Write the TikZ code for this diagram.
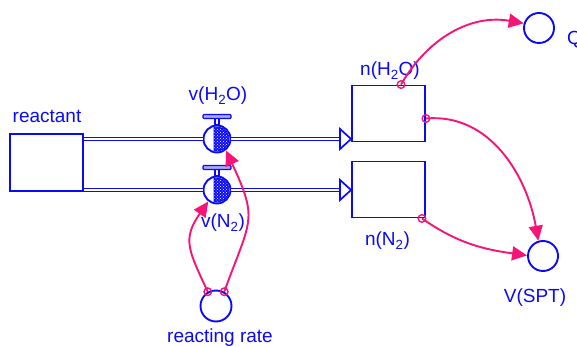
\documentclass[tikz,border=0pt]{standalone}
\usepackage{fontspec}
\setmainfont{Liberation Sans}
\usepackage{xcolor}
\usetikzlibrary{arrows.meta, positioning, calc, patterns}
\definecolor{sdblue}{RGB}{10, 10, 245}
\definecolor{linkpink}{RGB}{245, 20, 120}

\begin{document}
\begin{tikzpicture}[x=1pt, y=1pt, >={Triangle[length=15pt, width=14pt]},
    stock/.style={draw=sdblue, line width=1.9pt, minimum width=73pt, minimum height=56pt, inner sep=0pt},
    aux/.style={circle, draw=sdblue, line width=1.9pt, minimum size=30pt, inner sep=0pt},
    valvebody/.style={circle, draw=sdblue, fill=white, line width=1.9pt, minimum size=27pt, inner sep=0pt},
    pipe/.style={draw=sdblue, double=white, double distance=2pt, line width=1.4pt},
    lbl/.style={text=sdblue, font=\fontsize{19}{22}\selectfont, inner sep=0pt, anchor=base},
    link/.style={->, linkpink, line width=1.9pt},
    tail/.style={draw=linkpink, line width=1.4pt}]
    \useasboundingbox (0,0) rectangle (577,347);

    % stocks and converters
    \node[stock, minimum height=57pt] (reactant) at (46.5,184.5) {};
    \node[stock] (nH2O) at (388.5,233.5) {};
    \node[stock] (nN2) at (388.5,157.5) {};
    \node[aux] (Q) at (539,319) {};
    \node[aux] (VSPT) at (543,91) {};
    \node[aux, minimum size=31pt] (rr) at (216,41) {};
    \node[valvebody] (vH2O) at (217,208) {};
    \node[valvebody] (vN2) at (217,157) {};

    % flow pipes
    \foreach \v/\s in {vH2O/nH2O, vN2/nN2} {
        \draw[pipe] (reactant.east |- \v.west) -- (\v.west);
        \draw[pipe] (\v.east) -- ($(\s.west |- \v)+(-11,0)$);
        \draw[sdblue, line width=1.7pt, fill=white] (\s.west |- \v) -- ++(-11,10) -- ++(0,-20) -- cycle;
        \draw[sdblue, line width=1.3pt, fill=white] ([xshift=-2pt]\v.north) rectangle ([xshift=2pt, yshift=6pt]\v.north);
        \draw[sdblue, line width=1.3pt, fill=sdblue!35, rounded corners=1pt] ([xshift=-14pt, yshift=6pt]\v.north) rectangle ([xshift=14pt, yshift=10pt]\v.north);
        \draw[sdblue, line width=0.8pt, preaction={fill=sdblue}, pattern=crosshatch dots, pattern color=white]
            ([shift={(-3,11.6)}]\v.center) arc[start angle=104.5, end angle=-104.5, radius=12] -- cycle;
    }

    % labels
    \node[lbl] (lblreactant) at (47,224) {reactant};
    \node[lbl] (lblvH2O) at (218,246) {v(H\textsubscript{2}O)};
    \node[lbl] (lblvN2) at (223,119) {v(N\textsubscript{2})};
    \node[lbl] (lblnH2O) at (390,271) {n(H\textsubscript{2}O)};
    \node[lbl] (lblnN2) at (387.5,101) {n(N\textsubscript{2})};
    \node[lbl] (lblVSPT) at (535,44) {V(SPT)};
    \node[lbl] (lblrr) at (220,4) {reacting rate};
    \node[lbl, anchor=base west] (lblQ) at (567,302) {Q};

    % information links
    \coordinate (o1) at ([xshift=12.5pt]nH2O.north);
    \coordinate (o2) at ([yshift=-5pt]nH2O.east);
    \coordinate (o3) at ([xshift=-4pt]nN2.south east);
    \draw[link] (o1) to[out=60, in=170] (Q.163);
    \draw[link] (o2) to[out=5, in=100] (VSPT.107);
    \draw[link] (o3) to[out=-35, in=172] (VSPT.178);
    \draw[link] (rr.120) to[out=115, in=235, looseness=1.3] (vN2.233);
    \draw[link] (rr.60) to[out=70, in=-65, looseness=1.4] (vH2O.-52);
    \foreach \p in {o1, o2, o3, rr.120, rr.60}
        \draw[tail] (\p) circle (3.8);
\end{tikzpicture}
\end{document}
